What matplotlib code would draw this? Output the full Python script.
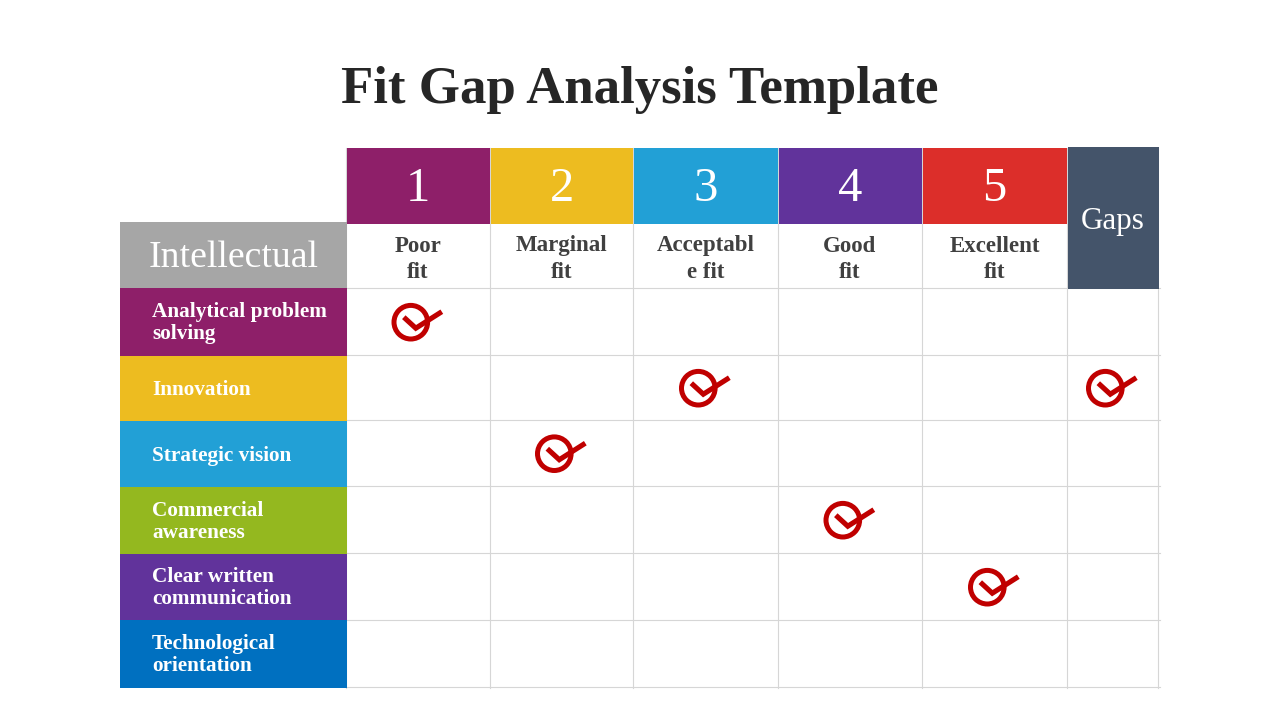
import matplotlib
matplotlib.use("Agg")
import matplotlib.pyplot as plt
from matplotlib.patches import Rectangle, Circle

title = "Fit Gap Analysis Template"
scores = ["1", "2", "3", "4", "5"]
score_labels = ["Poor\nfit", "Marginal\nfit", "Acceptabl\ne fit", "Good\nfit", "Excellent\nfit"]
score_colors = ["#8E1F69", "#EDBC20", "#22A0D6", "#61339B", "#DC2E2A"]
gaps_label = "Gaps"
group_label = "Intellectual"
skills = ["Analytical problem\nsolving", "Innovation", "Strategic vision",
          "Commercial\nawareness", "Clear written\ncommunication", "Technological\norientation"]
skill_colors = ["#8E1F69", "#EDBC20", "#22A0D6", "#94B81F", "#61339B", "#0070C0"]
# (row, column) of each check mark; column 5 is Gaps
checks = [(0, 0), (1, 2), (1, 5), (2, 1), (3, 3), (4, 4)]

x_edges = [347, 491, 634, 779, 923, 1068, 1159]
y_edges = [289, 356, 421, 487, 554, 621, 688]
GRID = "#D6D6D6"
RED = "#C00000"
SERIF = ["Liberation Serif", "DejaVu Serif"]

fig = plt.figure(figsize=(12.8, 7.2), dpi=100)
ax = fig.add_axes([0, 0, 1, 1])
ax.set_xlim(0, 1280)
ax.set_ylim(720, 0)
ax.axis("off")

def rect(x0, y0, x1, y1, color, z=2):
    ax.add_patch(Rectangle((x0, y0), x1 - x0, y1 - y0, fc=color, ec="none", zorder=z))

ax.text(640, 90, title, ha="center", va="center", fontsize=38.1, fontweight="bold",
        color="#262626", family=SERIF)

# grid
for x in x_edges:
    ax.plot([x - 1, x - 1], [148, 688], color=GRID, lw=0.8, zorder=1)
for y in y_edges:
    ax.plot([347, 1160], [y - 1, y - 1], color=GRID, lw=0.8, zorder=1)

# column headers
for i, (s, lab, c) in enumerate(zip(scores, score_labels, score_colors)):
    x0, x1 = x_edges[i], x_edges[i + 1]
    rect(x0, 148, x1 - 1, 224, c)
    xc = (x0 + x1) / 2 - 1
    ax.text(xc, 189, s, ha="center", va="center", fontsize=35, color="white", family=SERIF, zorder=3)
    l1, l2 = lab.split("\n")
    ax.text(xc, 246, l1, ha="center", va="center", fontsize=16.5, fontweight="bold", color="#404040", family=SERIF)
    ax.text(xc, 272, l2, ha="center", va="center", fontsize=16.5, fontweight="bold", color="#404040", family=SERIF)

rect(1068, 147, 1159, 289, "#44546A")
ax.text(1113, 221, gaps_label, ha="center", va="center", fontsize=22.3, color="white", family=SERIF, zorder=3)

# left column
rect(120, 222, 347, 288, "#A6A6A6")
ax.text(233.5, 258, group_label, ha="center", va="center", fontsize=27.2, color="white", family=SERIF, zorder=3)
left_edges = [288, 356, 421, 487, 554, 620, 688]
for i, (s, c) in enumerate(zip(skills, skill_colors)):
    rect(120, left_edges[i], 347, left_edges[i + 1], c)
    yc = (left_edges[i] + left_edges[i + 1]) / 2
    lines = s.split("\n")
    if len(lines) == 1:
        ax.text(152, yc + 1.5, lines[0], ha="left", va="center", fontsize=15.3, fontweight="bold", color="white", family=SERIF, zorder=3)
    else:
        ax.text(152, yc - 10, lines[0], ha="left", va="center", fontsize=15.3, fontweight="bold", color="white", family=SERIF, zorder=3)
        ax.text(152, yc + 12, lines[1], ha="left", va="center", fontsize=15.3, fontweight="bold", color="white", family=SERIF, zorder=3)

# check marks
for r, c in checks:
    cx = (x_edges[c] + x_edges[c + 1]) / 2 - 8.2
    cy = (y_edges[r] + y_edges[r + 1]) / 2 - 0.3
    ax.add_patch(Circle((cx, cy), 16.8, fc="none", ec=RED, lw=3.6, zorder=4))
    ax.plot([cx - 7, cx + 5, cx + 31], [cy - 5, cy + 6, cy - 10.5], color=RED, lw=3.7,
            solid_joinstyle="miter", solid_capstyle="butt", zorder=4)

fig.savefig("out.png", dpi=100, facecolor="white")
